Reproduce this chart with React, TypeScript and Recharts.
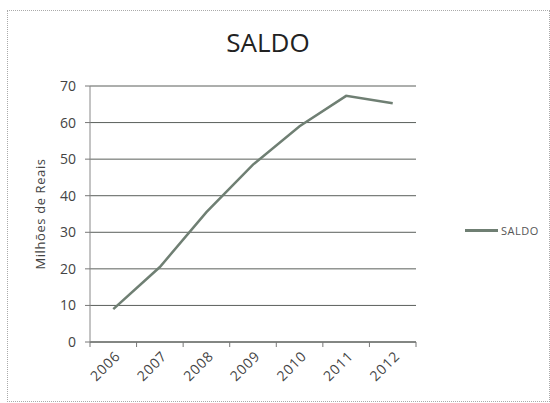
import { LineChart, Line, XAxis, YAxis, CartesianGrid } from "recharts"

const years = ["2006", "2007", "2008", "2009", "2010", "2011", "2012"]
const saldo = [9, 20.5, 35.5, 48.5, 59, 67.3, 65.3]
const yTicks = [0, 10, 20, 30, 40, 50, 60, 70]
const xTicks = [-0.5, 0, 0.5, 1, 1.5, 2, 2.5, 3, 3.5, 4, 4.5, 5, 5.5, 6, 6.5]

const data = years.map((y, i) => ({ idx: i, year: y, saldo: saldo[i] }))

const font = "'Open Sans', 'Liberation Sans', sans-serif"
const lineColor = "#6f7f73"
const gridColor = "#5a5f5b"

// category boundaries get a small tick mark, category centres get the rotated year
function YearTick(props: any) {
  const { x, y, payload } = props
  const v = payload.value as number
  if (!Number.isInteger(v)) {
    return <line x1={x} x2={x} y1={y} y2={y + 5} stroke="#777" />
  }
  const tx = x + 8
  const ty = y + 15
  return (
    <text
      x={tx}
      y={ty}
      transform={`rotate(-45 ${tx} ${ty})`}
      textAnchor="end"
      fill="#444"
      fontSize={14}
      letterSpacing={0.8}
      fontFamily={font}
    >
      {years[v]}
    </text>
  )
}

export default function App() {
  return (
    <div style={{ position: "absolute", left: 0, top: 0, width: 550, height: 403, background: "#fff" }}>
      <div
        style={{
          position: "absolute",
          left: 7,
          top: 10,
          width: 541,
          height: 390,
          border: "1px dotted #aaa",
        }}
      />
      <div
        style={{
          position: "absolute",
          left: 0,
          top: 24,
          width: 536,
          textAlign: "center",
          fontFamily: font,
          fontSize: 26,
          color: "#222",
        }}
      >
        SALDO
      </div>
      {/* legend */}
      <div
        style={{
          position: "absolute",
          left: 465,
          top: 223,
          display: "flex",
          alignItems: "center",
          fontFamily: font,
          fontSize: 11,
          color: "#555",
        }}
      >
        <div style={{ width: 33, height: 2.5, background: lineColor, marginRight: 3 }} />
        <span style={{ letterSpacing: 0.5 }}>SALDO</span>
      </div>
      <LineChart
        width={550}
        height={403}
        data={data}
        margin={{ top: 86, right: 134, bottom: 11, left: 30 }}
        style={{ position: "absolute", left: 0, top: 0 }}
      >
        <CartesianGrid horizontal={true} vertical={false} stroke={gridColor} strokeWidth={1} />
        <XAxis
          dataKey="idx"
          type="number"
          domain={[-0.5, 6.5]}
          ticks={xTicks}
          height={50}
          axisLine={{ stroke: gridColor }}
          tickLine={false}
          tickSize={0}
          tickMargin={0}
          interval={0}
          tick={<YearTick />}
        />
        <YAxis
          domain={[0, 70]}
          ticks={yTicks}
          width={60}
          tickSize={5}
          tickMargin={9}
          stroke="#777"
          axisLine={{ stroke: "#888" }}
          tick={{ fill: "#444", fontSize: 14, fontFamily: font }}
          label={{
            value: "Milhões de Reais",
            angle: -90,
            position: "insideLeft",
            offset: 10,
            style: { textAnchor: "middle", fill: "#444", fontSize: 13, letterSpacing: 0.6, fontFamily: font },
          }}
        />
        <Line
          type="linear"
          dataKey="saldo"
          stroke={lineColor}
          strokeWidth={2.5}
          dot={false}
          isAnimationActive={false}
        />
      </LineChart>
    </div>
  )
}
